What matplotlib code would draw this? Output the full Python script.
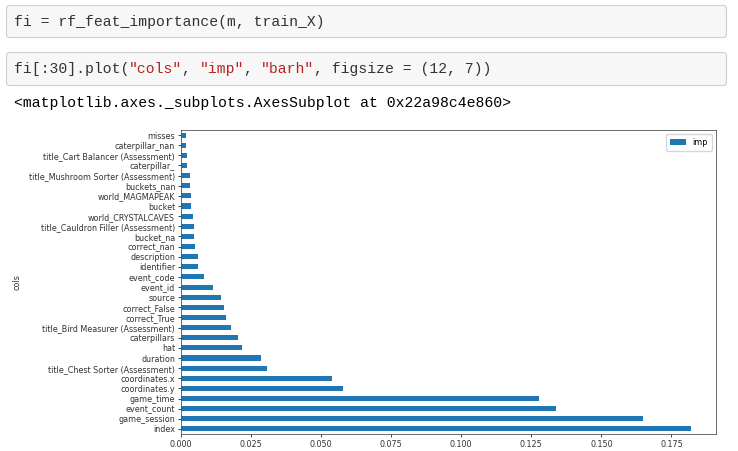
import matplotlib
matplotlib.use("Agg")
import matplotlib.pyplot as plt
from matplotlib.patches import FancyBboxPatch

# feature importances, top 30 (bottom to top as drawn)
cols = ["index", "game_session", "event_count", "game_time", "coordinates.y",
        "coordinates.x", "title_Chest Sorter (Assessment)", "duration", "hat",
        "caterpillars", "title_Bird Measurer (Assessment)", "correct_True",
        "correct_False", "source", "event_id", "event_code", "identifier",
        "description", "correct_nan", "bucket_na",
        "title_Cauldron Filler (Assessment)", "world_CRYSTALCAVES", "bucket",
        "world_MAGMAPEAK", "buckets_nan", "title_Mushroom Sorter (Assessment)",
        "caterpillar_", "title_Cart Balancer (Assessment)", "caterpillar_nan",
        "misses"]
imp = [0.1818, 0.1650, 0.1338, 0.1276, 0.0578,
       0.0540, 0.0306, 0.0288, 0.0220,
       0.0205, 0.0180, 0.0163,
       0.0153, 0.0145, 0.0116, 0.0082, 0.0063,
       0.0061, 0.0051, 0.0049,
       0.0046, 0.0044, 0.0038,
       0.0036, 0.0032, 0.0032,
       0.0022, 0.0021, 0.0019,
       0.0019]

code1 = [("fi = rf_feat_importance(m, train_X)", "#333333")]
code2 = [("fi[:30].plot(", "#333333"), ('"cols"', "#BA2121"), (", ", "#333333"),
         ('"imp"', "#BA2121"), (", ", "#333333"), ('"barh"', "#BA2121"),
         (", figsize = (12, 7))", "#333333")]
out_text = "<matplotlib.axes._subplots.AxesSubplot at 0x22a98c4e860>"

W, H = 738, 451
fig = plt.figure(figsize=(W / 100, H / 100), dpi=100)

# notebook background layer in pixel coordinates
bg = fig.add_axes([0, 0, 1, 1])
bg.set_xlim(0, W)
bg.set_ylim(H, 0)
bg.axis("off")

for y0, y1 in [(5, 38), (52, 86)]:
    bg.add_patch(FancyBboxPatch((6.5, y0 + 0.5), 720, y1 - y0 - 1,
                                boxstyle="round,pad=0,rounding_size=3",
                                fc="#f7f7f7", ec="#cfcfcf", lw=0.8))

fs = 10.6
cw = 0.6 * fs * 100 / 72


def draw_line(parts, x0, y):
    n = 0
    for s, c in parts:
        bg.text(x0 + n * cw, y, s, family="Liberation Mono", fontsize=fs,
                color=c, va="center", ha="left")
        n += len(s)


draw_line(code1, 14, 22)
draw_line(code2, 14, 69)
draw_line([(out_text, "#000000")], 14, 103)

# the chart itself
ax = fig.add_axes([180.7 / W, 1 - 434 / H, (716 - 180.7) / W, (434 - 130) / H])
ypos = list(range(len(cols)))
ax.barh(ypos, imp, height=0.5, color="#1f77b4", label="imp")
ax.set_ylim(-0.5, len(cols) - 0.5)
ax.set_yticks(ypos)
ax.set_yticklabels(cols)
ax.set_ylabel("cols", fontsize=5.75, color="#333333")
ax.set_xticks([0.0, 0.025, 0.05, 0.075, 0.1, 0.125, 0.15, 0.175])
ax.set_xticklabels(["0.000", "0.025", "0.050", "0.075", "0.100", "0.125",
                    "0.150", "0.175"])
ax.tick_params(labelsize=5.75, length=2.0, width=0.5, pad=2,
               labelcolor="#333333")
for sp in ax.spines.values():
    sp.set_linewidth(0.6)
    sp.set_color("#555555")
ax.legend(loc="upper right", fontsize=5.75, handlelength=2, borderpad=0.5,
          framealpha=0.8)
ax.yaxis.set_label_coords(-0.298, 0.5)

fig.savefig("out.png", dpi=100)
